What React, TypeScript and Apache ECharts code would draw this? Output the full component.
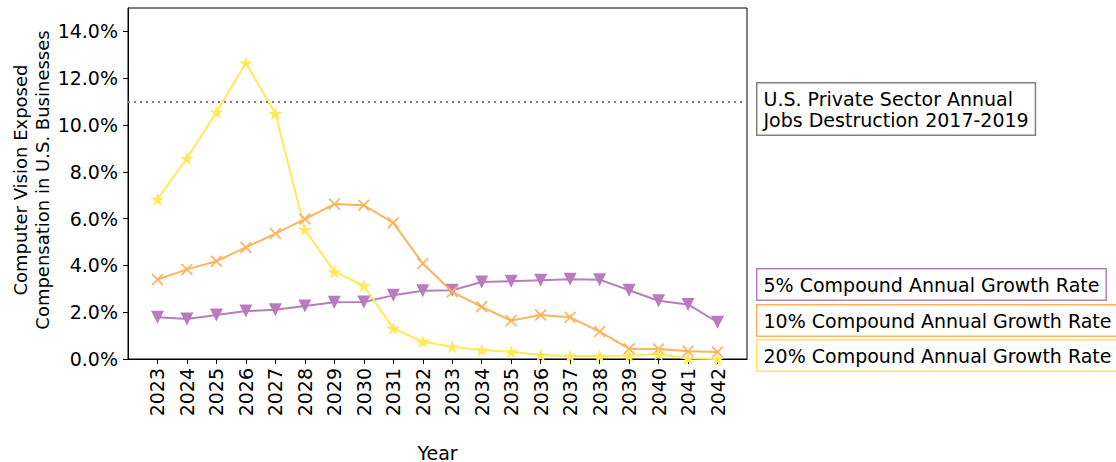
import React, { useEffect, useRef } from "react";
import * as echarts from "echarts";

const years = [2023, 2024, 2025, 2026, 2027, 2028, 2029, 2030, 2031, 2032, 2033, 2034, 2035, 2036, 2037, 2038, 2039, 2040, 2041, 2042];
const yTicks = [0, 2, 4, 6, 8, 10, 12, 14];
const cagr5 = [1.78, 1.71, 1.88, 2.05, 2.1, 2.26, 2.43, 2.44, 2.72, 2.92, 2.94, 3.29, 3.32, 3.37, 3.41, 3.39, 2.94, 2.49, 2.33, 1.57];
const cagr10 = [3.4, 3.83, 4.18, 4.77, 5.36, 5.98, 6.62, 6.57, 5.82, 4.08, 2.87, 2.23, 1.64, 1.88, 1.78, 1.17, 0.44, 0.43, 0.33, 0.3];
const cagr20 = [6.83, 8.58, 10.55, 12.65, 10.49, 5.53, 3.73, 3.13, 1.31, 0.74, 0.52, 0.38, 0.31, 0.17, 0.13, 0.13, 0.14, 0.21, 0.02, 0.0];
const jobsDestruction = 11.0;
const seriesNames = ["5% Compound Annual Growth Rate", "10% Compound Annual Growth Rate", "20% Compound Annual Growth Rate"];
const refLabel = "U.S. Private Sector Annual\nJobs Destruction 2017-2019";
const yName = "Computer Vision Exposed\nCompensation in U.S. Businesses";
const xName = "Year";

const PURPLE = "#b97cbe";
const ORANGE = "#ffb25b";
const YELLOW = "#ffe85c";
const FONT = "DejaVu Sans";

const STAR = "path://M10,0 L12.25,6.91 L19.51,6.91 L13.63,11.18 L15.88,18.09 L10,13.82 L4.12,18.09 L6.37,11.18 L0.49,6.91 L7.75,6.91 Z";
const TRI = "path://M0,0 L10,0 L5,10 Z";
const CROSS = "path://M0,1 L1,0 L10,9 L9,10 Z M9,0 L10,1 L1,10 L0,9 Z";

export default function App() {
  const ref = useRef<HTMLDivElement>(null);
  useEffect(() => {
    document.body.style.margin = "0";
    const chart = echarts.init(ref.current!, null, { renderer: "svg" });
    const mk = (name: string, vals: number[], color: string, symbol: string, size: number) => ({
      name,
      type: "line",
      data: years.map((y, i) => [y, vals[i]]),
      symbol,
      symbolSize: size,
      symbolKeepAspect: true,
      showAllSymbol: true,
      lineStyle: { color, width: 2 },
      itemStyle: { color },
      z: 3,
    });
    const labelBox = (text: string, top: number, color: string) => ({
      type: "text",
      left: 756,
      top,
      style: {
        text,
        fill: "#000",
        font: `19px '${FONT}'`,
        padding: [5, 6, 4, 6],
        borderColor: color,
        borderWidth: 1.5,
        backgroundColor: "#fff",
        lineHeight: 21,
      },
    });
    chart.setOption({
      animation: false,
      textStyle: { fontFamily: FONT },
      grid: {
        left: 128,
        right: 369,
        top: 8,
        bottom: 103,
        show: true,
        borderColor: "#000",
        borderWidth: 1,
        backgroundColor: "transparent",
        containLabel: false,
        outerBoundsMode: "none",
      },
      xAxis: {
        type: "value",
        min: 2022,
        max: 2043,
        interval: 1,
        name: xName,
        nameLocation: "middle",
        nameGap: 84,
        nameTextStyle: { fontSize: 19, lineHeight: 19, color: "#000", fontFamily: FONT },
        splitLine: { show: false },
        axisLine: { lineStyle: { color: "#000", width: 1 } },
        axisTick: { inside: false, length: 5, lineStyle: { color: "#000" }, customValues: years },
        axisLabel: { rotate: 90, fontSize: 19, color: "#000", margin: 9, customValues: years, formatter: (v: number) => String(v) },
      },
      yAxis: {
        type: "value",
        min: 0,
        max: 15,
        interval: 2,
        splitLine: { show: false },
        axisLine: { show: true, lineStyle: { color: "#000", width: 1 } },
        axisTick: { show: true, inside: false, length: 5, lineStyle: { color: "#000" }, customValues: yTicks },
        axisLabel: { fontSize: 19, color: "#000", margin: 10, customValues: yTicks, formatter: (v: number) => v.toFixed(1) + "%" },
      },
      series: [
        {
          ...mk(seriesNames[0], cagr5, PURPLE, TRI, 13),
          markLine: {
            silent: true,
            symbol: "none",
            label: { show: false },
            lineStyle: { color: "#808080", type: [2, 4], width: 2 },
            data: [{ yAxis: jobsDestruction }],
          },
        },
        mk(seriesNames[1], cagr10, ORANGE, CROSS, 12),
        mk(seriesNames[2], cagr20, YELLOW, STAR, 14),
      ],
      graphic: [
        {
          type: "text",
          x: 31,
          y: 180,
          rotation: Math.PI / 2,
          style: {
            text: yName,
            fill: "#000",
            font: `18px '${FONT}'`,
            textAlign: "center",
            textVerticalAlign: "middle",
            lineHeight: 22,
          },
        },
        labelBox(refLabel, 82, "#808080"),
        labelBox(seriesNames[0], 268, PURPLE),
        labelBox(seriesNames[1], 304, ORANGE),
        labelBox(seriesNames[2], 339, YELLOW),
      ],
    });
    return () => chart.dispose();
  }, []);
  return <div ref={ref} style={{ width: 1116, height: 462 }} />;
}
